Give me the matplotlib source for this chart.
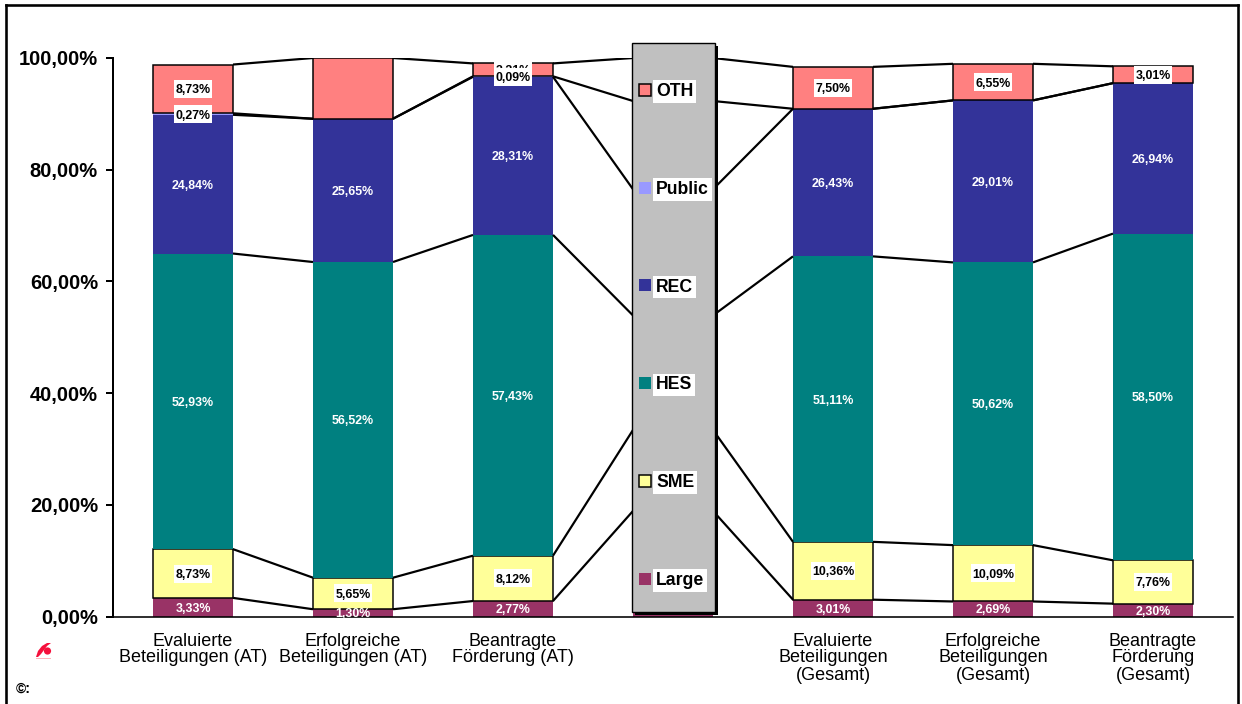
import matplotlib
matplotlib.use("Agg")
import matplotlib.pyplot as plt
import numpy as np
from matplotlib.lines import Line2D
from matplotlib.patches import Circle, Polygon, Rectangle
from matplotlib.transforms import Affine2D

plt.rcParams["font.family"] = ["Liberation Sans", "DejaVu Sans"]

W, H = 1242, 704

categories = [
    "Evaluierte\nBeteiligungen (AT)",
    "Erfolgreiche\nBeteiligungen (AT)",
    "Beantragte\nFörderung (AT)",
    "",
    "Evaluierte\nBeteiligungen\n(Gesamt)",
    "Erfolgreiche\nBeteiligungen\n(Gesamt)",
    "Beantragte\nFörderung\n(Gesamt)",
]

# The fourth column only anchors the connector lines; the key panel sits over it.
large = [3.33, 1.30, 2.77, 18.9, 3.01, 2.69, 2.30]
sme = [8.73, 5.65, 8.12, 14.5, 10.36, 10.09, 7.76]
hes = [52.93, 56.52, 57.43, 20.5, 51.11, 50.62, 58.50]
rec = [24.84, 25.65, 28.31, 22.6, 26.43, 29.01, 26.94]
public = [0.27, 0.0, 0.09, 15.8, 0.0, 0.0, 0.0]
oth = [8.73, 10.88, 2.31, 7.7, 7.50, 6.55, 3.01]

series_names = ["Large", "SME", "HES", "REC", "Public", "OTH"]
series_values = [large, sme, hes, rec, public, oth]
series_colors = ["#993366", "#FFFF99", "#008080", "#333399", "#9999FF", "#FF8080"]
outlined = {"SME", "OTH"}
boxed_labels = {"SME", "OTH", "Public"}
unlabelled = {(1, "OTH")}
spacer = 3

yticks = [0, 20, 40, 60, 80, 100]
ytick_labels = ["0,00%", "20,00%", "40,00%", "60,00%", "80,00%", "100,00%"]

PX = 72 / 100  # points per pixel at 100 dpi
BAR_WIDTH = 0.5


def fig_x(px):
    return px / W


def fig_y(py):
    return 1 - py / H


fig = plt.figure(figsize=(W / 100, H / 100), dpi=100, facecolor="white")
ax = fig.add_axes([fig_x(113), fig_y(616.5), (1233 - 113) / W, (616.5 - 58) / H])
ax.set_xlim(-0.5, 6.5)
ax.set_ylim(0, 100)
ax.patch.set_visible(False)

x = np.arange(len(categories))
bottom = np.zeros(len(categories))
tops = {}
containers = {}
for name, values, color in zip(series_names, series_values, series_colors):
    v = np.array(values)
    edge = "black" if name in outlined else color
    lw = 1.5 * PX if name in outlined else 0
    containers[name] = ax.bar(x, v, BAR_WIDTH, bottom=bottom, color=color,
                              edgecolor=edge, linewidth=lw, label=name, zorder=2)
    mids = bottom + v / 2
    bottom = bottom + v
    tops[name] = bottom.copy()

    # Connector lines between the upper edges of neighbouring columns
    for i in range(len(x) - 1):
        ax.plot([x[i] + BAR_WIDTH / 2, x[i + 1] - BAR_WIDTH / 2],
                [bottom[i], bottom[i + 1]], color="black", lw=2.2 * PX,
                solid_capstyle="butt", zorder=3)

# OTH labels go first so that the small Public box can sit over them.
label_order = ["Large", "SME", "HES", "REC", "OTH", "Public"]
z = 5.0
for name in label_order:
    idx = series_names.index(name)
    v = np.array(series_values[idx])
    centers = tops[name] - v / 2
    for i in range(len(x)):
        if i == spacer or v[i] == 0 or (i, name) in unlabelled:
            continue
        txt = f"{v[i]:.2f}%".replace(".", ",")
        boxed = name in boxed_labels
        if boxed:
            w_px = 38 if len(txt) == 5 else 44
            h_px = 18
            ax.add_patch(Rectangle((x[i] - w_px / 320, centers[i] - h_px / 2 / 5.585),
                                   w_px / 160, h_px / 5.585, facecolor="white",
                                   edgecolor="none", zorder=z, clip_on=False))
        ax.text(x[i], centers[i], txt, ha="center", va="center_baseline",
                fontsize=8.9, fontweight="bold", zorder=z + 0.01,
                color="black" if boxed else "white")
        z += 0.1

# Axes styling
for side in ("top", "right"):
    ax.spines[side].set_visible(False)
ax.spines["left"].set_linewidth(2 * PX)
ax.spines["left"].set_zorder(4)
ax.spines["bottom"].set_linewidth(1.6 * PX)
ax.spines["bottom"].set_zorder(4)
ax.set_yticks(yticks)
ax.set_yticklabels(ytick_labels, fontsize=14.5, fontweight="bold")
ax.tick_params(axis="y", length=7 * PX, width=2 * PX, pad=8 * PX)
ax.set_xticks(x)
ax.set_xticklabels(categories, fontsize=13, linespacing=1.0)
ax.tick_params(axis="x", length=0, pad=16 * PX)

# Key panel over the spacer column, with a hard shadow to the lower right
shadow = Rectangle((fig_x(635), fig_y(615)), 83 / W, 569 / H, transform=fig.transFigure,
                   facecolor="black", edgecolor="none", zorder=8)
panel = Rectangle((fig_x(632), fig_y(612)), 83 / W, 569 / H, transform=fig.transFigure,
                  facecolor="#C0C0C0", edgecolor="black", linewidth=1.4 * PX, zorder=9)
fig.add_artist(shadow)
fig.add_artist(panel)

handles = [containers[n][0] for n in reversed(series_names)]
labels = list(reversed(series_names))
legend = fig.legend(handles, labels, loc="upper left",
                    bbox_to_anchor=(fig_x(639), fig_y(83)),
                    bbox_transform=fig.transFigure, frameon=False, borderpad=0,
                    borderaxespad=0, prop={"size": 12.7, "weight": "bold"},
                    labelspacing=4.58, handlelength=0.68, handleheight=0.68,
                    handletextpad=0.3)
legend.set_zorder(10)
for t in legend.get_texts():
    t.set_bbox(dict(facecolor="white", edgecolor="none", pad=2))

# Outer frame, open along the lower edge
for xs, ys in (([6, 6], [5, 704]), ([6, 1238], [5, 5]), ([1238, 1238], [5, 704])):
    fig.add_artist(Line2D([fig_x(a) for a in xs], [fig_y(b) for b in ys], color="black",
                          lw=2.6 * PX, solid_capstyle="projecting"))

# Small red logo mark
logo_tf = Affine2D().scale(1 / W, -1 / H).translate(0, 1) + fig.transFigure
fig.add_artist(Polygon([(36, 657), (38, 651), (42, 646), (47, 643), (51, 643),
                        (47, 646), (44, 650), (41, 654), (38, 657)],
                       closed=True, transform=logo_tf, facecolor="#F5103C", edgecolor="none"))
fig.add_artist(Circle((47.5, 651), 3.6, transform=logo_tf, facecolor="#F5103C", edgecolor="none"))
fig.add_artist(Line2D([fig_x(36), fig_x(50)], [fig_y(658), fig_y(658)], color="#FFB0B8", lw=0.7))

fig.text(fig_x(16), fig_y(689), "©:", fontsize=10, fontweight="bold", ha="left", va="center")

fig.savefig("out.png", dpi=100)
